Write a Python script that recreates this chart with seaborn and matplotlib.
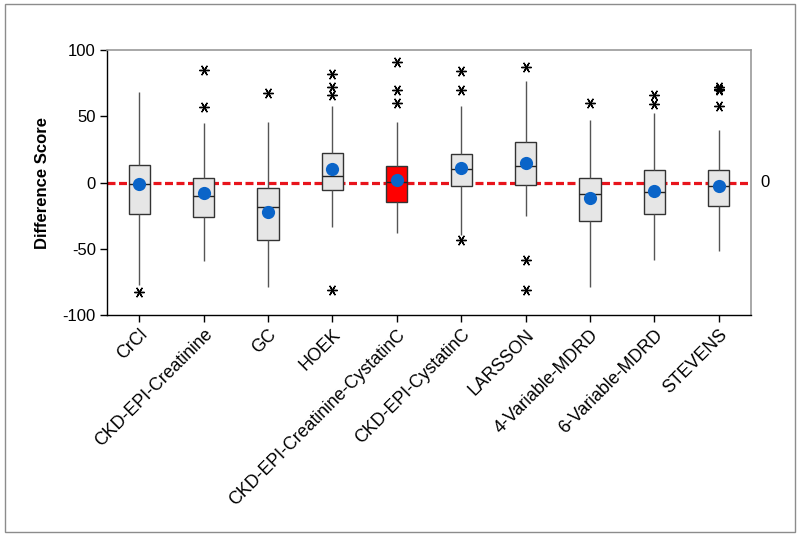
import matplotlib
matplotlib.use("Agg")
import matplotlib.pyplot as plt
from matplotlib.patches import Rectangle
import pandas as pd
import seaborn as sns

# values
methods = ["CrCl", "CKD-EPI-Creatinine", "GC", "HOEK", "CKD-EPI-Creatinine-CystatinC",
           "CKD-EPI-CystatinC", "LARSSON", "4-Variable-MDRD", "6-Variable-MDRD", "STEVENS"]
whisker_low = [-77, -59.5, -79, -33.75, -37.75, -39.5, -25.25, -79, -58.75, -51.75]
q1 = [-23.75, -26.25, -43.75, -5.75, -14.5, -2.75, -1.5, -29.25, -23.75, -17.75]
median = [-0.75, -10.5, -18.75, 5.25, 0.5, 10.5, 12.75, -9, -7.5, -2.5]
q3 = [13.5, 3.75, -4, 22.25, 12.5, 21.75, 30.75, 3.75, 9.25, 9.25]
whisker_high = [68, 45, 45.75, 58, 45.5, 58, 76.25, 47.25, 52.25, 39.75]
means = [-1, -8.25, -22.25, 10, 1.75, 11, 14.75, -11.5, -6.5, -2.5]

outlier_method = ["CrCl",
                  "CKD-EPI-Creatinine", "CKD-EPI-Creatinine",
                  "GC",
                  "HOEK", "HOEK", "HOEK", "HOEK",
                  "CKD-EPI-Creatinine-CystatinC", "CKD-EPI-Creatinine-CystatinC", "CKD-EPI-Creatinine-CystatinC",
                  "CKD-EPI-CystatinC", "CKD-EPI-CystatinC", "CKD-EPI-CystatinC",
                  "LARSSON", "LARSSON", "LARSSON",
                  "4-Variable-MDRD",
                  "6-Variable-MDRD", "6-Variable-MDRD",
                  "STEVENS", "STEVENS", "STEVENS", "STEVENS"]
outlier_value = [-82.5,
                 85, 57.25,
                 67.25,
                 81.75, 72.25, 66, -80.75,
                 91, 70, 60.25,
                 84.25, 70, -43.5,
                 87.25, -58.25, -81.25,
                 59.75,
                 66, 59.25,
                 71.75, 70.5, 69.75, 57.75]

highlight = "CKD-EPI-Creatinine-CystatinC"

# five-number summaries as rows; whis=(0, 100) makes seaborn reproduce them exactly
rows = []
for i, m in enumerate(methods):
    for v in (whisker_low[i], q1[i], median[i], q3[i], whisker_high[i]):
        rows.append({"method": m, "score": v})
df = pd.DataFrame(rows)

sns.set_theme(style="ticks")
plt.rcParams["font.family"] = ["Liberation Sans", "DejaVu Sans"]
plt.rcParams["axes.unicode_minus"] = False
plt.rcParams["text.color"] = "black"
plt.rcParams["axes.labelcolor"] = "black"
plt.rcParams["xtick.color"] = "black"
plt.rcParams["ytick.color"] = "black"

fig = plt.figure(figsize=(8, 5.35), dpi=100)
ax = fig.add_axes([0.13375, 0.4112, 0.805, 0.4953])

palette = {m: ("#ff0000" if m == highlight else "#e6e6e6") for m in methods}

ax.axhline(0, color="#e8141c", lw=2.3, ls=(0, (2.5, 1.1)), zorder=1.5)

sns.boxplot(data=df, x="method", y="score", hue="method", order=methods, palette=palette,
            whis=(0, 100), showfliers=False, showcaps=False, width=0.33, linewidth=1,
            linecolor="#333333", legend=False, saturation=1, ax=ax,
            whiskerprops=dict(color="#555555"), medianprops=dict(color="#222222"))

sns.stripplot(x=outlier_method, y=outlier_value, order=methods, jitter=False,
              marker=(6, 2, 90), size=7, color="black", linewidth=1, zorder=4, ax=ax)
sns.stripplot(x=methods, y=means, order=methods, jitter=False, marker="o", size=9.5,
              color="#0a64c8", linewidth=0, zorder=5, ax=ax)

ax.text(1.014, 0, "0", transform=ax.get_yaxis_transform(), va="center", ha="left", fontsize=12)

ax.set_ylim(-100, 100)
ax.set_xlim(-0.5, 9.5)
ax.set_yticks([-100, -50, 0, 50, 100])
ax.set_xlabel("")
ax.set_ylabel("Difference Score", fontsize=12, fontweight="bold", labelpad=9)
ax.tick_params(axis="y", labelsize=12, length=5, width=1, pad=3)
ax.tick_params(axis="x", labelsize=12.8, length=5, width=1, pad=3)
plt.setp(ax.get_xticklabels(), rotation=45, ha="right", rotation_mode="anchor")

for side in ["left", "bottom"]:
    ax.spines[side].set_color("black")
    ax.spines[side].set_linewidth(1)
for side in ["top", "right"]:
    ax.spines[side].set_visible(True)
    ax.spines[side].set_color("#999999")
    ax.spines[side].set_linewidth(1.2)

fig.add_artist(Rectangle((0.00625, 0.0056), 0.9875, 0.987, transform=fig.transFigure,
                         fill=False, edgecolor="#8c8c8c", linewidth=1))

fig.savefig("out.png", dpi=100)
